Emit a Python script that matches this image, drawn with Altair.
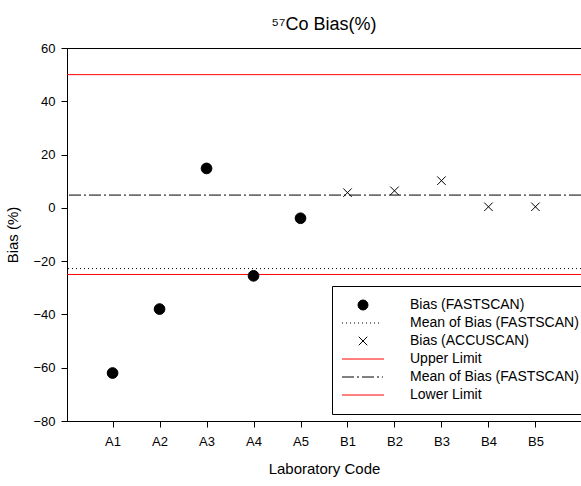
import altair as alt
import pandas as pd

# ---- data ----
codes = ["A1", "A2", "A3", "A4", "A5", "B1", "B2", "B3", "B4", "B5"]
fast_codes = ["A1", "A2", "A3", "A4", "A5"]
fast_bias = [-62.0, -38.0, 14.8, -25.5, -3.9]
accu_codes = ["B1", "B2", "B3", "B4", "B5"]
accu_bias = [5.7, 6.4, 10.2, 0.4, 0.4]
mean_fast = -22.8
mean_accu = 4.8
upper_limit = 50.0
lower_limit = -25.0

keys = ["k1", "k2", "k3", "k4", "k5", "k6"]
labels = ["Bias (FASTSCAN)", "Mean of Bias (FASTSCAN)", "Bias (ACCUSCAN)",
          "Upper Limit", "Mean of Bias (FASTSCAN)", "Lower Limit"]

FONT = "Liberation Sans, Arial, sans-serif"


# ---- legend symbol paths (unit = 5 px at symbol size 100) ----
def pattern_path(pattern, start=-4.2, end=4.2):
    parts = []
    x = start
    i = 0
    while x < end - 1e-9:
        seg = pattern[i % len(pattern)]
        x2 = min(x + seg, end)
        if i % 2 == 0:
            parts.append(f"M{x:.2f},0H{x2:.2f}")
        x = x2
        i += 1
    return "".join(parts)


circle_path = "M-1,0A1,1,0,1,0,1,0A1,1,0,1,0,-1,0Z"
dotted_path = pattern_path([0.2, 0.6], -4.2, 3.4)
cross_path = "M-0.85,-0.85L0.85,0.85M-0.85,0.85L0.85,-0.85"
solid_path = "M-4.2,0H4.2"
dashdot_path = pattern_path([2.4, 0.6, 0.4, 0.6], -4.2, 4.0)

shape_scale = alt.Scale(domain=keys, range=[circle_path, dotted_path, cross_path,
                                             solid_path, dashdot_path, solid_path])
stroke_scale = alt.Scale(domain=keys, range=["black", "black", "black", "red", "black", "red"])
fill_scale = alt.Scale(domain=keys, range=["black", "transparent", "transparent",
                                           "transparent", "transparent", "transparent"])

label_expr = " : ".join(
    f"datum.value == '{k}' ? '{l}'" for k, l in zip(keys, labels)
) + " : ''"


def make_legend():
    return alt.Legend(
        title=None, orient="none", legendX=265, legendY=238,
        padding=12, symbolSize=100, symbolStrokeWidth=1,
        symbolOffset=12, labelOffset=40, labelFontSize=14, labelFont=FONT,
        labelColor="black", rowPadding=4, strokeColor="black", fillColor="white",
        labelExpr=label_expr, labelLimit=400,
    )


x_enc = alt.X(
    "code:N",
    scale=alt.Scale(type="point", domain=codes, padding=0.97),
    axis=alt.Axis(title="Laboratory Code", labelAngle=0, labelFontSize=13,
                  titleFontSize=15, labelPadding=8, titlePadding=13, tickSize=6),
)
y_enc = alt.Y(
    "bias:Q",
    scale=alt.Scale(domain=[-80, 60], nice=False, zero=False),
    axis=alt.Axis(title="Bias (%)", values=list(range(-80, 61, 20)), labelFontSize=13,
                  titleFontSize=15, labelPadding=6, titlePadding=12, tickSize=6),
)

fast_df = pd.DataFrame({"code": fast_codes, "bias": fast_bias, "series": "k1"})
accu_df = pd.DataFrame({"code": accu_codes, "bias": accu_bias, "series": "k3"})


def series_channels():
    return dict(
        shape=alt.Shape("series:N", scale=shape_scale, legend=make_legend()),
        stroke=alt.Stroke("series:N", scale=stroke_scale, legend=make_legend()),
        fill=alt.Fill("series:N", scale=fill_scale, legend=make_legend()),
    )


fast_pts = alt.Chart(fast_df).mark_point(filled=True, opacity=1, size=115, strokeWidth=1).encode(
    x=x_enc, y=y_enc, **series_channels()
)
accu_pts = alt.Chart(accu_df).mark_point(filled=True, opacity=1, size=100, strokeWidth=1).encode(
    x=x_enc, y=y_enc, **series_channels()
)


def hline(value, key, dash=None):
    df = pd.DataFrame({"bias": [value], "series": [key]})
    kw = dict(strokeWidth=1)
    if dash:
        kw["strokeDash"] = dash
    return alt.Chart(df).mark_rule(**kw).encode(
        y=y_enc,
        stroke=alt.Stroke("series:N", scale=stroke_scale, legend=make_legend()),
    )


chart = alt.layer(
    hline(upper_limit, "k4"),
    hline(lower_limit, "k6"),
    hline(mean_fast, "k2", [1, 3]),
    hline(mean_accu, "k5", [12, 3, 2, 3]),
    fast_pts,
    accu_pts,
).properties(
    width=514,
    height=373,
    padding={"left": 67, "top": 48, "right": 0, "bottom": 65},
    autosize=alt.AutoSizeParams(type="none"),
    title=alt.TitleParams("⁵⁷Co Bias(%)", fontSize=18, font=FONT, fontWeight="normal",
                          color="black", offset=8, anchor="middle"),
).configure(
    font=FONT,
    background="white",
).configure_view(
    stroke="black", strokeWidth=1,
).configure_axis(
    grid=False, domainColor="black", tickColor="black", labelColor="black",
    titleColor="black", titleFontWeight="normal", labelFont=FONT, titleFont=FONT,
    domainWidth=1, tickWidth=1,
)

chart.save("out.html", embed_options={"renderer": "svg", "actions": False})
